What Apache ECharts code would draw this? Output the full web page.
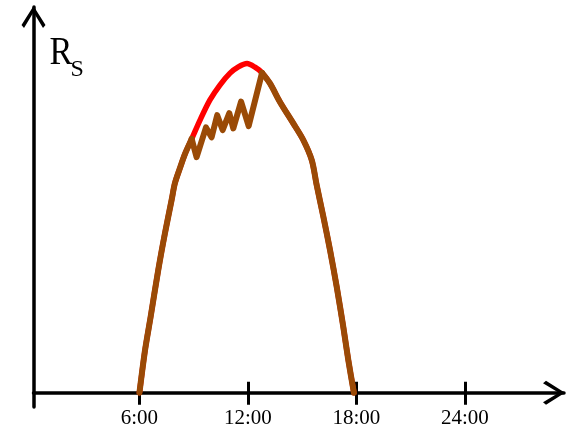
<!DOCTYPE html>
<html>
<head>
<meta charset="utf-8">
<script src="https://cdn.jsdelivr.net/npm/echarts@6/dist/echarts.min.js"></script>
<style>html,body{margin:0;padding:0;background:#fff}#c{width:568px;height:431px}</style>
</head>
<body>
<div id="c"></div>
<script>
// Clear-sky radiation curve (red)
const redHours  = [6.00, 6.31, 6.62, 7.04, 7.41, 7.78, 7.96, 8.24, 8.52, 8.89, 9.35, 9.90, 10.45, 11.01, 11.47, 11.95, 12.39, 12.78, 13.22, 13.77, 14.51, 15.06, 15.53, 15.80, 16.17, 16.54, 16.91, 17.27, 17.55, 17.86];
const redValues = [0, 12.9, 23.0, 37.1, 48.2, 58.3, 63.3, 67.9, 72.2, 76.7, 82.4, 88.5, 93.0, 96.6, 98.5, 99.5, 98.4, 96.7, 93.5, 87.9, 81.4, 76.4, 70.3, 62.8, 53.2, 43.1, 32.0, 20.0, 9.9, 0];
// Observed radiation curve with fluctuations (brown)
const brownHours  = [6.00, 6.31, 6.62, 7.04, 7.41, 7.78, 7.96, 8.24, 8.52, 8.89, 9.16, 9.68, 9.99, 10.30, 10.60, 10.97, 11.19, 11.62, 12.04, 12.78, 13.22, 13.77, 14.51, 15.06, 15.53, 15.80, 16.17, 16.54, 16.91, 17.27, 17.55, 17.86];
const brownValues = [0, 12.9, 23.0, 37.1, 48.2, 58.3, 63.3, 67.9, 72.2, 76.7, 71.2, 80.2, 77.2, 83.9, 79.4, 84.5, 79.9, 88.0, 80.6, 96.7, 93.5, 87.9, 81.4, 76.4, 70.3, 62.8, 53.2, 43.1, 32.0, 20.0, 9.9, 0];
const tickHours  = [6, 12, 18, 24];
const tickLabels = ['6:00', '12:00', '18:00', '24:00'];
const yName = 'R';
const yNameSub = 'S';

const zip = (a, b) => a.map((x, i) => [x, b[i]]);
const brownAll = zip(brownHours, brownValues);
// zigzag part (first brown point off the red curve ... rejoin point) drawn with straight segments
const zzStart = 9, zzEnd = 19;
const brownLeft = brownAll.slice(0, zzStart + 1);
const brownZig = brownAll.slice(zzStart, zzEnd + 1);
const brownRight = brownAll.slice(zzEnd);

const serif = '"Liberation Serif", "Times New Roman", serif';
const chevron = 'path://M12,0 L24,19 L21.5,22 L12,6.2 L2.5,22 L0,19 Z';
const xMin = 0.14, xMax = 29.48, yMin = -4.32, yMax = 116.6;
const brown = '#9a4a06';
const brownLine = {color: brown, width: 6, cap: 'round', join: 'round'};

const chart = echarts.init(document.getElementById('c'), null, {renderer: 'canvas'});
chart.setOption({
  animation: false,
  backgroundColor: '#ffffff',
  grid: [
    {left: 33.5, right: 4, top: 7, bottom: 24, outerBoundsMode: 'none', containLabel: false},
    {left: 33.5, right: 4, top: 7, bottom: 38.3, outerBoundsMode: 'none', containLabel: false}
  ],
  xAxis: [{
    type: 'value', gridIndex: 0, min: xMin, max: xMax, position: 'bottom',
    axisLine: {show: true, onZero: true, symbol: ['none', chevron], symbolSize: [24, 22], symbolOffset: [0, -10],
      lineStyle: {color: '#000', width: 3.5}},
    axisTick: {show: true, inside: false, length: 12, customValues: tickHours, lineStyle: {color: '#000', width: 3}},
    axisLabel: {show: true, customValues: tickHours, margin: 1, color: '#000', fontFamily: serif, fontSize: 21,
      formatter: v => tickLabels[tickHours.indexOf(Math.round(v))] || ''},
    splitLine: {show: false}
  }, {
    type: 'value', gridIndex: 1, min: xMin, max: xMax, position: 'bottom',
    axisLine: {show: false, onZero: false},
    axisTick: {show: true, inside: true, length: 11, customValues: tickHours, lineStyle: {color: '#000', width: 3}},
    axisLabel: {show: false},
    splitLine: {show: false}
  }],
  yAxis: [{
    type: 'value', gridIndex: 0, min: yMin, max: yMax,
    axisLine: {show: true, onZero: true, symbol: ['none', chevron], symbolSize: [24, 22], symbolOffset: [0, -10],
      lineStyle: {color: '#000', width: 3.5}},
    axisTick: {show: false}, axisLabel: {show: false}, splitLine: {show: false}
  }, {
    type: 'value', gridIndex: 1, min: 0, max: 1,
    axisLine: {show: false}, axisTick: {show: false}, axisLabel: {show: false}, splitLine: {show: false}
  }],
  series: [{
    type: 'line', xAxisIndex: 0, yAxisIndex: 0, data: zip(redHours, redValues),
    showSymbol: false, smooth: 0.3, z: 2,
    lineStyle: {color: '#ff0000', width: 5.5, cap: 'round', join: 'round'}
  }, {
    type: 'line', xAxisIndex: 0, yAxisIndex: 0, data: brownLeft,
    showSymbol: false, smooth: 0.3, z: 3, lineStyle: brownLine
  }, {
    type: 'line', xAxisIndex: 0, yAxisIndex: 0, data: brownZig,
    showSymbol: false, smooth: false, z: 3, lineStyle: brownLine
  }, {
    type: 'line', xAxisIndex: 0, yAxisIndex: 0, data: brownRight,
    showSymbol: false, smooth: 0.3, z: 3, lineStyle: brownLine
  }],
  graphic: [
    {type: 'text', x: 49.5, y: 53, scaleX: 0.84, style: {text: yName, font: '41px ' + serif, fill: '#000', align: 'left', verticalAlign: 'middle'}},
    {type: 'text', x: 70.5, y: 70, style: {text: yNameSub, font: '24px ' + serif, fill: '#000', align: 'left', verticalAlign: 'middle'}}
  ]
});
</script>
</body>
</html>
